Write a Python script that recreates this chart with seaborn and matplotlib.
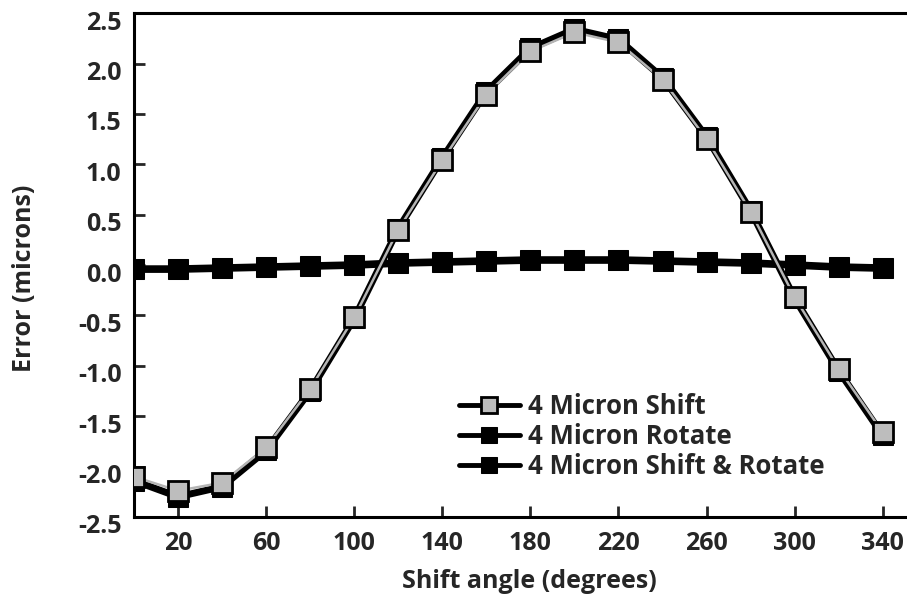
import matplotlib
matplotlib.use("Agg")
import matplotlib.pyplot as plt
import matplotlib.transforms as mtransforms
import seaborn as sns
import pandas as pd

angles = [0, 20, 40, 60, 80, 100, 120, 140, 160, 180, 200, 220, 240, 260, 280, 300, 320, 340]
shift = [-2.10, -2.24, -2.16, -1.81, -1.23, -0.52, 0.35, 1.04, 1.69, 2.12, 2.31, 2.21, 1.84, 1.25, 0.53, -0.32, -1.03, -1.66]
rotate = [-0.04, -0.04, -0.03, -0.02, -0.01, 0.0, 0.02, 0.03, 0.04, 0.05, 0.05, 0.05, 0.04, 0.03, 0.02, 0.0, -0.02, -0.03]
shift_rotate = [-2.14, -2.30, -2.20, -1.84, -1.25, -0.53, 0.36, 1.06, 1.72, 2.15, 2.34, 2.24, 1.86, 1.27, 0.54, -0.33, -1.05, -1.69]
series_names = ["4 Micron Shift", "4 Micron Rotate", "4 Micron Shift & Rotate"]
xticks = [20, 60, 100, 140, 180, 220, 260, 300, 340]
yticks = [-2.5, -2.0, -1.5, -1.0, -0.5, 0.0, 0.5, 1.0, 1.5, 2.0, 2.5]

df = pd.DataFrame({
    "angle": angles * 3,
    "error": shift + rotate + shift_rotate,
    "series": [series_names[0]] * len(angles) + [series_names[1]] * len(angles) + [series_names[2]] * len(angles),
})

sns.set_theme(style="ticks")
plt.rcParams["font.family"] = ["Open Sans", "DejaVu Sans"]
plt.rcParams["font.weight"] = "bold"

fig = plt.figure(figsize=(9.07, 5.99), dpi=100)
ax = fig.add_axes([0.1477, 0.137, 0.8523, 0.841])
fig.patch.set_facecolor("white")

d_sr = df[df.series == series_names[2]]
d_r = df[df.series == series_names[1]]
d_s = df[df.series == series_names[0]]

sns.lineplot(data=d_sr, x="angle", y="error", ax=ax, color="black", lw=5,
             marker="s", markersize=14, markerfacecolor="black", markeredgecolor="black",
             label=series_names[2], legend=False, zorder=2)
sns.lineplot(data=d_r, x="angle", y="error", ax=ax, color="black", lw=5.5,
             marker="s", markersize=15, markerfacecolor="black", markeredgecolor="black",
             label=series_names[1], legend=False, zorder=3)
sns.lineplot(data=d_s, x="angle", y="error", ax=ax, color="#b5b5b5", lw=1.8,
             marker="s", markersize=14, markerfacecolor="#bdbdbd", markeredgecolor="black",
             markeredgewidth=2, label=series_names[0], legend=False, zorder=4)

ax.set_xlim(0, 351)
ax.set_ylim(-2.5, 2.5)
ax.set_xticks(xticks)
ax.set_yticks(yticks)
ax.set_yticklabels([f"{v:.1f}" for v in yticks])
ax.tick_params(direction="in", length=8, width=2, labelsize=18)
ax.tick_params(axis="x", pad=10)
ax.tick_params(axis="y", pad=9)
offset = mtransforms.ScaledTranslation(0, -7 / 100, fig.dpi_scale_trans)
for lab in ax.get_yticklabels():
    lab.set_transform(lab.get_transform() + offset)
for lab in ax.get_xticklabels() + ax.get_yticklabels():
    lab.set_fontweight("bold")
for s in ["left", "bottom", "top"]:
    ax.spines[s].set_linewidth(2.2)
    ax.spines[s].set_color("black")
ax.spines["right"].set_visible(False)

ax.set_xlabel("Shift angle (degrees)", fontsize=18, fontweight="bold")
ax.set_ylabel("Error (microns)", fontsize=18, fontweight="bold")
ax.xaxis.set_label_coords(0.512, -0.103)
ax.yaxis.set_label_coords(-0.125, 0.474)

h, l = ax.get_legend_handles_labels()
order = [l.index(n) for n in series_names]
leg = ax.legend([h[i] for i in order], [l[i] for i in order], loc="lower left",
                bbox_to_anchor=(0.39, 0.027), frameon=False,
                handlelength=2.4, handletextpad=0.3, labelspacing=0.12,
                prop={"weight": "bold", "size": 18.5})
for line in leg.get_lines():
    line.set_markersize(11)
    line.set_linewidth(3.5)
    line.set_color("black")

fig.savefig("out.png", dpi=100)
